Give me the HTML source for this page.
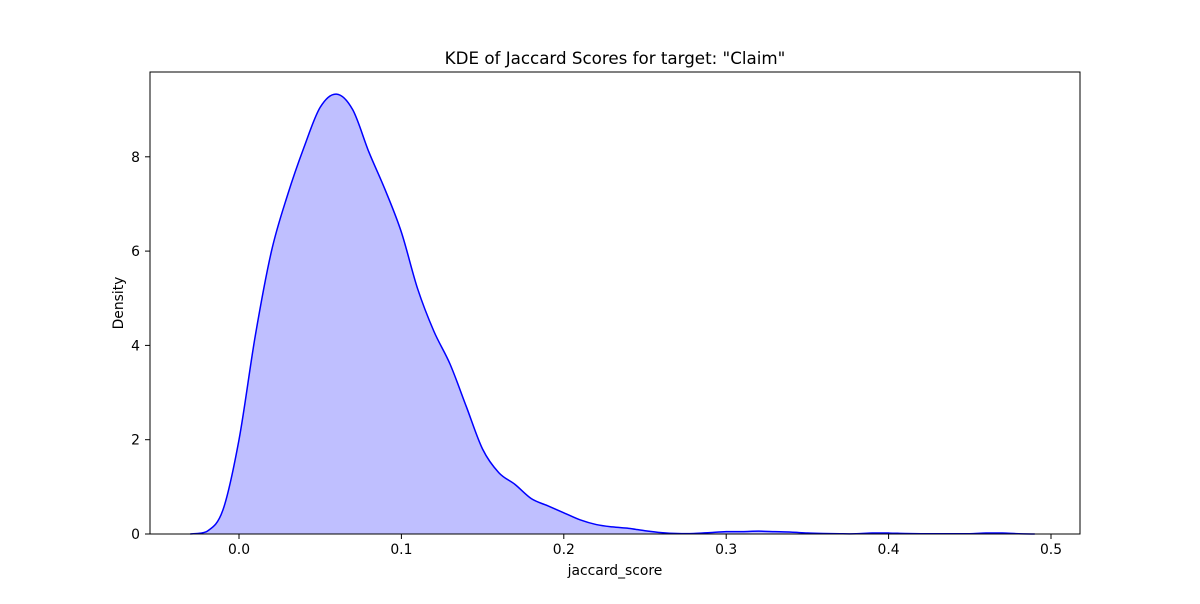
<!DOCTYPE html>
<html><head><meta charset="utf-8"><style>
body{margin:0;background:#fff;font-family:"DejaVu Sans","Liberation Sans",sans-serif;}
text{font-family:"DejaVu Sans","Liberation Sans",sans-serif;}
</style></head><body>
<svg width="1200" height="600" xmlns="http://www.w3.org/2000/svg">
<rect width="1200" height="600" fill="#fff"/>
<g id="plot"></g>
<rect x="150" y="72" width="930" height="462" fill="none" stroke="#000" stroke-width="1"/>
<text x="615" y="64" font-size="16.7" text-anchor="middle">KDE of Jaccard Scores for target: "Claim"</text>
<text x="615" y="575" font-size="13.9" text-anchor="middle">jaccard_score</text>
<text x="123" y="303" font-size="13.9" text-anchor="middle" transform="rotate(-90 123 303)">Density</text>
<g id="axes"></g>
</svg>
<script>
const xs=[-0.03,-0.02,-0.01,0.0,0.01,0.02,0.03,0.04,0.05,0.06,0.07,0.08,0.09,0.1,0.11,0.12,0.13,0.14,0.15,0.16,0.17,0.18,0.19,0.2,0.21,0.22,0.23,0.24,0.25,0.26,0.27,0.28,0.29,0.3,0.31,0.32,0.33,0.34,0.35,0.36,0.37,0.38,0.39,0.4,0.41,0.42,0.43,0.44,0.45,0.46,0.47,0.48,0.49];
const density=[0,0.05,0.5,2.0,4.2,6.0,7.2,8.2,9.05,9.33,9.0,8.1,7.3,6.4,5.2,4.3,3.6,2.7,1.8,1.3,1.05,0.75,0.6,0.45,0.3,0.2,0.15,0.12,0.07,0.03,0.01,0.01,0.03,0.05,0.05,0.06,0.05,0.04,0.02,0.01,0.005,0.005,0.02,0.02,0.01,0.005,0.005,0.005,0.005,0.02,0.02,0.005,0];
const xTicks=[0,0.1,0.2,0.3,0.4,0.5];
const xTickLabels=["0.0","0.1","0.2","0.3","0.4","0.5"];
const yTicks=[0,2,4,6,8];
const yTickLabels=["0","2","4","6","8"];
const X=v=>239+v*1624, Y=v=>534-v*47.15;
const NS="http://www.w3.org/2000/svg";
const pts=xs.map((x,i)=>[X(x),Y(density[i])]);
let d="M"+pts[0][0]+","+pts[0][1];
for(let i=0;i<pts.length-1;i++){
 const p0=pts[Math.max(0,i-1)],p1=pts[i],p2=pts[i+1],p3=pts[Math.min(pts.length-1,i+2)];
 const c1=[p1[0]+(p2[0]-p0[0])/6,p1[1]+(p2[1]-p0[1])/6],c2=[p2[0]-(p3[0]-p1[0])/6,p2[1]-(p3[1]-p1[1])/6];
 d+=` C${c1[0]},${Math.min(534,c1[1])} ${c2[0]},${Math.min(534,c2[1])} ${p2[0]},${p2[1]}`;
}
const plot=document.getElementById('plot');
const fill=document.createElementNS(NS,'path');
fill.setAttribute('d',d+` L${pts[pts.length-1][0]},534 L${pts[0][0]},534 Z`);
fill.setAttribute('fill','rgba(0,0,255,0.25)');


plot.appendChild(fill);
const line=document.createElementNS(NS,'path');
line.setAttribute('d',d);line.setAttribute('fill','none');line.setAttribute('stroke','#0000ff');line.setAttribute('stroke-width','1.5');


plot.appendChild(line);
const ax=document.getElementById('axes');
xTicks.forEach((t,i)=>{
 const l=document.createElementNS(NS,'line');
 l.setAttribute('x1',X(t));l.setAttribute('x2',X(t));l.setAttribute('y1',534);l.setAttribute('y2',539);l.setAttribute('stroke','#000');
 
 
 ax.appendChild(l);
 const tx=document.createElementNS(NS,'text');
 tx.setAttribute('x',X(t));tx.setAttribute('y',554);tx.setAttribute('font-size','13.9');tx.setAttribute('text-anchor','middle');tx.textContent=xTickLabels[i];
 
 
 ax.appendChild(tx);
});
yTicks.forEach((t,i)=>{
 const l=document.createElementNS(NS,'line');
 l.setAttribute('x1',145);l.setAttribute('x2',150);l.setAttribute('y1',Y(t));l.setAttribute('y2',Y(t));l.setAttribute('stroke','#000');
 
 
 ax.appendChild(l);
 const tx=document.createElementNS(NS,'text');
 tx.setAttribute('x',140);tx.setAttribute('y',Y(t)+5);tx.setAttribute('font-size','13.9');tx.setAttribute('text-anchor','end');tx.textContent=yTickLabels[i];
 
 
 ax.appendChild(tx);
});
</script>
</body></html>
